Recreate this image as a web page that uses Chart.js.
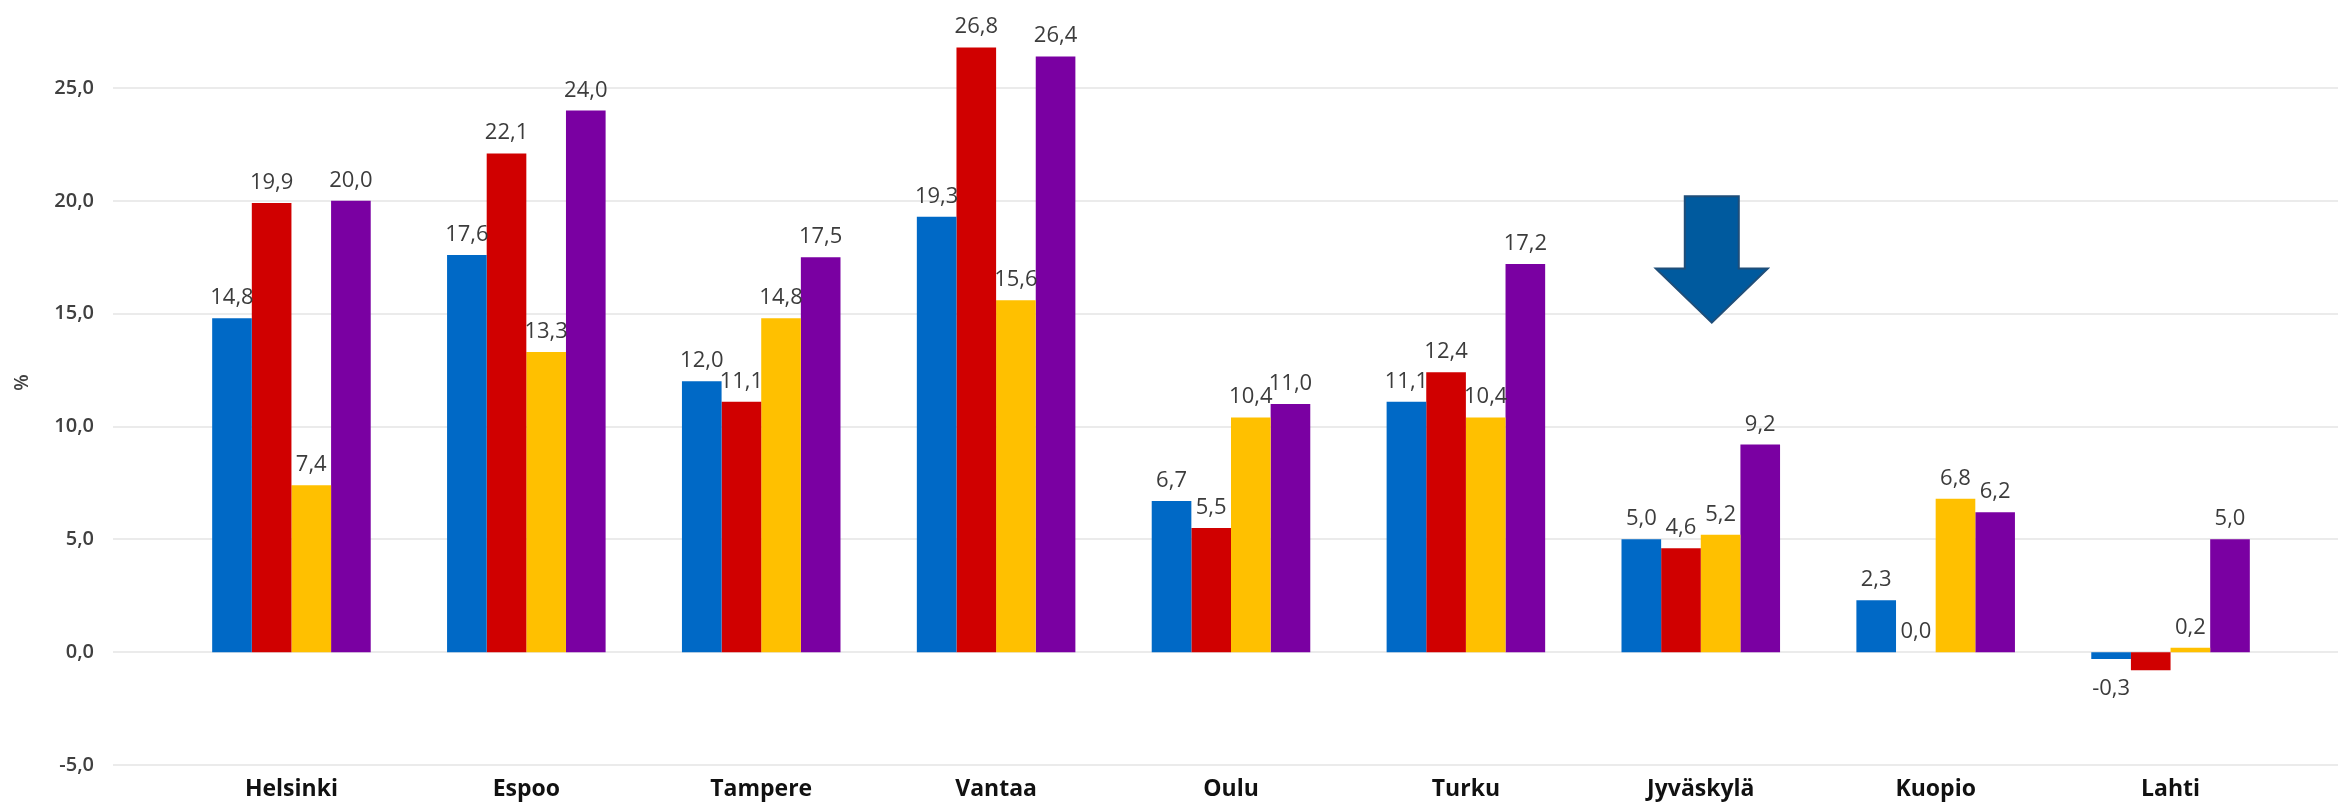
<!DOCTYPE html>
<html>
<head>
<meta charset="utf-8">
<script src="https://cdn.jsdelivr.net/npm/chart.js@4/dist/chart.umd.min.js"></script>
<style>
  html, body { margin:0; padding:0; background:#fff; }
  canvas { display:block; }
</style>
</head>
<body>
<canvas id="ch" width="2338" height="804"></canvas>
<script>
// ---- datos
const kaupungit = ['Helsinki','Espoo','Tampere','Vantaa','Oulu','Turku','Jyväskylä','Kuopio','Lahti'];
const sarja1 = [14.8, 17.6, 12.0, 19.3, 6.7, 11.1, 5.0, 2.3, -0.3];
const sarja2 = [19.9, 22.1, 11.1, 26.8, 5.5, 12.4, 4.6, 0.0, -0.8];
const sarja3 = [7.4, 13.3, 14.8, 15.6, 10.4, 10.4, 5.2, 6.8, 0.2];
const sarja4 = [20.0, 24.0, 17.5, 26.4, 11.0, 17.2, 9.2, 6.2, 5.0];
const yTicks = [-5, 0, 5, 10, 15, 20, 25];
// Lahti, sarja 2: sin etiqueta en el original
const sinEtiqueta = [[1, 8]];

const colores = ['#0069C6', '#D00000', '#FFC000', '#7A00A2'];
const fmt = v => v.toFixed(1).replace('.', ',');
const FONT = "'Open Sans', 'Noto Sans', sans-serif";

// grid lines wider than the plot area
const gridPlugin = {
  id: 'gridLargo',
  beforeDatasetsDraw(chart){
    const {ctx} = chart;
    const y = chart.scales.y;
    ctx.save();
    ctx.strokeStyle = '#ebebeb';
    ctx.lineWidth = 2;
    yTicks.forEach(t => {
      const py = Math.round(y.getPixelForValue(t));
      ctx.beginPath();
      ctx.moveTo(113, py); ctx.lineTo(chart.width, py);
      ctx.stroke();
    });
    ctx.restore();
  }
};

// value labels
const labelPlugin = {
  id: 'etiquetas',
  afterDatasetsDraw(chart){
    const {ctx} = chart;
    ctx.save();
    ctx.font = `500 22px ${FONT}`;
    ctx.fillStyle = '#3c3c3c';
    ctx.textAlign = 'center';
    chart.data.datasets.forEach((ds, di) => {
      const meta = chart.getDatasetMeta(di);
      meta.data.forEach((bar, i) => {
        if (sinEtiqueta.some(([a,b]) => a===di && b===i)) return;
        const v = ds.data[i];
        if (v < 0) {
          ctx.textBaseline = 'top';
          ctx.fillText(fmt(v), bar.x, bar.y + 19);
        } else {
          ctx.textBaseline = 'alphabetic';
          ctx.fillText(fmt(v), bar.x, bar.y - 14);
        }
      });
    });
    ctx.restore();
  }
};

// arrow above Jyväskylä
const arrowPlugin = {
  id: 'nuoli',
  afterDatasetsDraw(chart){
    const {ctx} = chart;
    const x = chart.scales.x, y = chart.scales.y;
    const cx = x.getPixelForValue(6) + 11;
    const top = y.getPixelForValue(20.2);
    const neck = y.getPixelForValue(17.0);
    const tip = y.getPixelForValue(14.6);
    const sw = 27, hw = 56;
    ctx.save();
    ctx.beginPath();
    ctx.moveTo(cx - sw, top);
    ctx.lineTo(cx + sw, top);
    ctx.lineTo(cx + sw, neck);
    ctx.lineTo(cx + hw, neck);
    ctx.lineTo(cx, tip);
    ctx.lineTo(cx - hw, neck);
    ctx.lineTo(cx - sw, neck);
    ctx.closePath();
    ctx.fillStyle = '#005A9E';
    ctx.fill();
    ctx.strokeStyle = '#1F4E79';
    ctx.lineWidth = 2;
    ctx.stroke();
    ctx.restore();
  }
};

new Chart(document.getElementById('ch'), {
  type: 'bar',
  data: {
    labels: kaupungit,
    datasets: [sarja1, sarja2, sarja3, sarja4].map((d, i) => ({
      label: 'Sarja ' + (i + 1),
      data: d,
      backgroundColor: colores[i],
      borderWidth: 0,
      barPercentage: 1,
      categoryPercentage: 0.675
    }))
  },
  options: {
    responsive: false,
    animation: false,
    devicePixelRatio: 1,
    layout: { padding: { left: 0, right: 50, top: 0, bottom: 0 } },
    plugins: { legend: { display: false }, tooltip: { enabled: false } },
    scales: {
      x: {
        grid: { display: false, drawTicks: false },
        border: { display: false },
        afterFit: s => { s.height = 39; },
        ticks: { color: '#111', padding: 11, font: { family: FONT, size: 23, weight: 'bold' } }
      },
      y: {
        min: -5, max: 28.9,
        grid: { display: false, drawTicks: false },
        border: { display: false },
        afterBuildTicks: s => { s.ticks = yTicks.map(v => ({ value: v })); },
        afterFit: s => { s.width = 174; s.paddingTop = 0; s.paddingBottom = 0; },
        ticks: {
          color: '#404040', padding: 80,
          font: { family: FONT, size: 20, weight: '600' },
          callback: v => fmt(v)
        },
        title: {
          display: true, text: '%', color: '#404040',
          padding: { top: 11, bottom: 0 },
          font: { family: FONT, size: 19, weight: '600' }
        }
      }
    }
  },
  plugins: [gridPlugin, labelPlugin, arrowPlugin]
});
</script>
</body>
</html>
